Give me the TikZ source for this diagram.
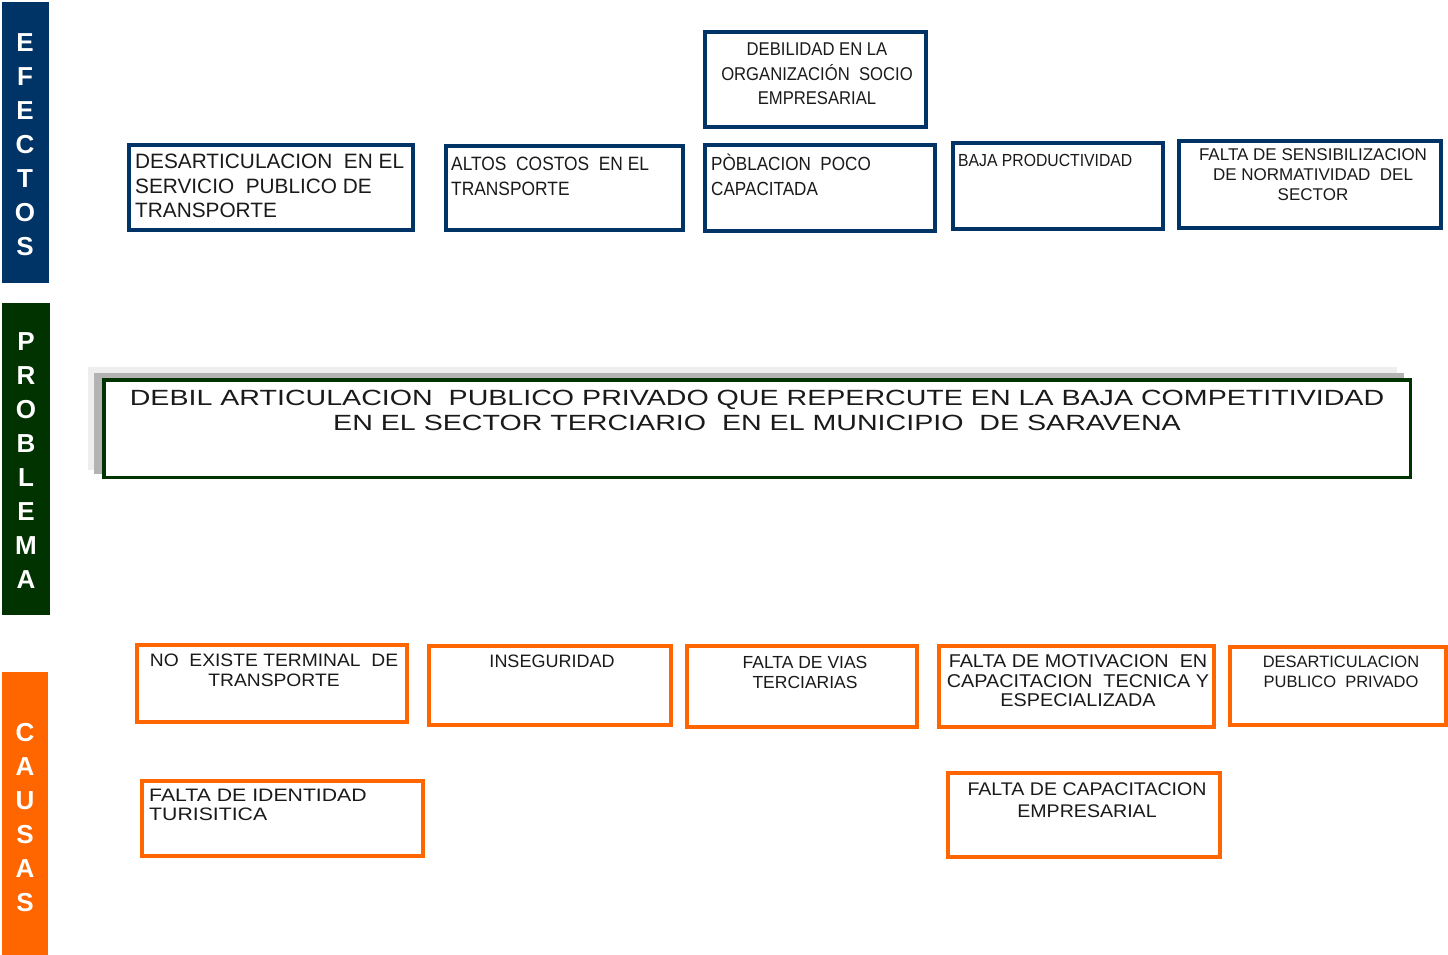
\documentclass[tikz,border=0pt]{standalone}
\usepackage{fontspec}
\setmainfont{Liberation Sans}
\newfontfamily\narrowf[FakeStretch=0.9]{Liberation Sans}
\newfontfamily\midf[FakeStretch=1.07]{Liberation Sans}
\newfontfamily\widef[FakeStretch=1.18]{Liberation Sans}
\newfontfamily\probf[FakeStretch=1.3]{Liberation Sans}
\newcommand\setfs[2]{\fontsize{#1pt}{#2pt}\selectfont}
\definecolor{efblue}{HTML}{003366}
\definecolor{prgreen}{HTML}{003300}
\definecolor{caorange}{HTML}{FF6600}
\definecolor{txtc}{HTML}{1A1A1A}
\definecolor{shlight}{HTML}{EEEEEE}
\definecolor{shmid}{HTML}{B3B3B3}
\tikzset{
  sidebar/.style={rectangle, inner sep=0pt, draw=none},
  barletters/.style={inner sep=0pt, text=white, align=center, font=\setfs{26}{34}\bfseries},
  efbox/.style={rectangle, draw=efblue, line width=4.5pt, fill=white, inner sep=0pt},
  cabox/.style={rectangle, draw=caorange, line width=4pt, fill=white, inner sep=0pt},
  prbox/.style={rectangle, draw=prgreen, line width=3.5pt, fill=white, inner sep=0pt},
  shbox/.style={rectangle, draw=none, inner sep=0pt},
  txt/.style={inner sep=0pt, text=txtc},
}
\begin{document}
\begin{tikzpicture}[x=1pt,y=-1pt]
\useasboundingbox (0,0) rectangle (1448,955);
\fill[white] (0,0) rectangle (1448,955);

% side bars
\node[sidebar, fill=efblue, minimum width=47, minimum height=281] (befe) at (25.5,142.5) {};
\node[barletters] (lefe) at (25,144.5) {E\\F\\E\\C\\T\\O\\S};
\node[sidebar, fill=prgreen, minimum width=48, minimum height=312] (bpro) at (26,459) {};
\node[barletters] (lpro) at (26,461) {P\\R\\O\\B\\L\\E\\M\\A};
\node[sidebar, fill=caorange, minimum width=46, minimum height=283] (bcau) at (25,813.5) {};
\node[barletters] (lcau) at (25,818) {C\\A\\U\\S\\A\\S};

% effects
\node[efbox, minimum width=284, minimum height=85] (e1) at (271,187.5) {};
\node[txt, anchor=west, align=left, font=\setfs{20.8}{24.5}] (e1t) at (135,186) {DESARTICULACION\ \ EN EL\\SERVICIO\ \ PUBLICO DE\\TRANSPORTE};
\node[efbox, minimum width=237, minimum height=84] (e2) at (564.5,188) {};
\node[txt, anchor=west, align=left, font=\narrowf\setfs{19.3}{25}] (e2t) at (451,176) {ALTOS\ \ COSTOS\ \ EN EL\\TRANSPORTE};
\node[efbox, minimum width=221, minimum height=95] (e3) at (815.5,79.5) {};
\node[txt, align=center, font=\narrowf\setfs{18.5}{24.5}] (e3t) at (817,74) {DEBILIDAD EN LA\\ORGANIZACIÓN\ \ SOCIO\\EMPRESARIAL};
\node[efbox, minimum width=230, minimum height=86] (e4) at (820,188) {};
\node[txt, anchor=west, align=left, font=\narrowf\setfs{19}{25}] (e4t) at (711,175) {PÒBLACION\ \ POCO\\CAPACITADA};
\node[efbox, minimum width=210, minimum height=86] (e5) at (1058,186) {};
\node[txt, anchor=west, align=left, font=\narrowf\setfs{17.5}{22}] (e5t) at (958,160) {BAJA PRODUCTIVIDAD};
\node[efbox, minimum width=262, minimum height=87] (e6) at (1310,184.5) {};
\node[txt, align=center, font=\setfs{17}{20}] (e6t) at (1313,175) {FALTA DE SENSIBILIZACION\\DE NORMATIVIDAD\ \ DEL\\SECTOR};

% problem
\node[shbox, fill=shlight, minimum width=1309, minimum height=103, anchor=north west] (sh1) at (88,367) {};
\node[shbox, fill=shmid, minimum width=1310, minimum height=101, anchor=north west] (sh2) at (94,373) {};
\node[prbox, minimum width=1306.5, minimum height=97.5] (p) at (757,428.5) {};
\node[txt, align=center, font=\probf\setfs{22}{25}] (pt) at (757,410) {DEBIL ARTICULACION\ \ PUBLICO PRIVADO QUE REPERCUTE EN LA BAJA COMPETITIVIDAD\\EN EL SECTOR TERCIARIO\ \ EN EL MUNICIPIO\ \ DE SARAVENA};

% causes
\node[cabox, minimum width=270, minimum height=77] (c1) at (272,683.5) {};
\node[txt, align=center, font=\midf\setfs{18}{20}] (c1t) at (274,670) {NO\ \ EXISTE TERMINAL\ \ DE\\TRANSPORTE};
\node[cabox, minimum width=242, minimum height=79] (c2) at (550,685.5) {};
\node[txt, align=center, font=\setfs{18}{20}] (c2t) at (552,661) {INSEGURIDAD};
\node[cabox, minimum width=230, minimum height=81] (c3) at (802,686.5) {};
\node[txt, align=center, font=\setfs{17.5}{20}] (c3t) at (805,672) {FALTA DE VIAS\\TERCIARIAS};
\node[cabox, minimum width=275, minimum height=81] (c4) at (1076.5,686.5) {};
\node[txt, align=center, font=\midf\setfs{18.5}{19.5}] (c4t) at (1078,681) {FALTA DE MOTIVACION\ \ EN\\CAPACITACION\ \ TECNICA Y\\ESPECIALIZADA};
\node[cabox, minimum width=216, minimum height=78] (c5) at (1338,686) {};
\node[txt, align=center, font=\setfs{16.5}{20}] (c5t) at (1341,672) {DESARTICULACION\\PUBLICO\ \ PRIVADO};
\node[cabox, minimum width=281, minimum height=75] (c6) at (282.5,818.5) {};
\node[txt, anchor=west, align=left, font=\widef\setfs{18}{19.5}] (c6t) at (149,805) {FALTA DE IDENTIDAD\\TURISITICA};
\node[cabox, minimum width=272, minimum height=84] (c7) at (1084,815) {};
\node[txt, align=center, font=\midf\setfs{18.3}{21.5}] (c7t) at (1087,800) {FALTA DE CAPACITACION\\EMPRESARIAL};
\end{tikzpicture}
\end{document}
